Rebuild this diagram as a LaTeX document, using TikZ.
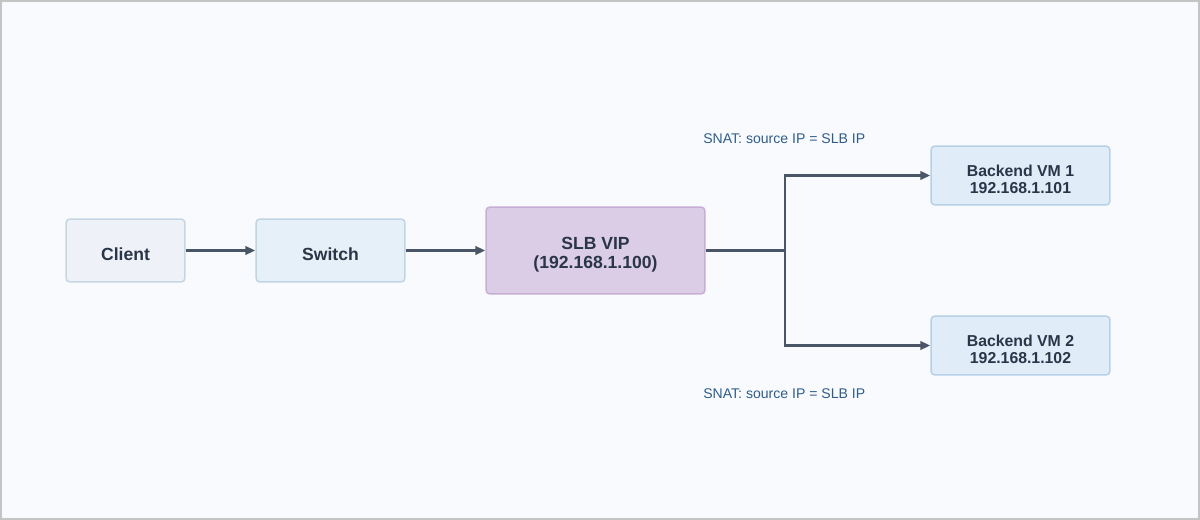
\documentclass[tikz,border=0pt]{standalone}
\usepackage{fontspec}
\setmainfont{Liberation Sans}
\usetikzlibrary{arrows.meta}
\definecolor{pagebg}{HTML}{F8FAFD}
\definecolor{frame}{HTML}{C4C4C4}
\definecolor{txt}{HTML}{2A3547}
\definecolor{wire}{HTML}{4A5568}
\definecolor{note}{HTML}{2F5D8A}
\newcommand{\dn}{\rule{0pt}{1.2em}}
\tikzstyle{box}=[rectangle,rounded corners=.08cm,draw,line width=.85pt,text=txt,font=\bfseries,align=center,inner sep=1pt]
\tikzstyle{arr}=[draw=wire,line width=1.4pt,-{Triangle[length=.2cm,width=.17cm]}]

\begin{document}
\begin{tikzpicture}[x=.02cm,y=-.02cm]
\fill[frame] (0,0) rectangle (1200,520);
\fill[pagebg] (2,2) rectangle (1198,518);
% boxes
\node[box,fill={rgb,255:red,238;green,242;blue,248},draw={rgb,255:red,198;green,214;blue,228},minimum width=2.38cm,minimum height=1.26cm,font=\bfseries\fontsize{10}{12}\selectfont] (client) at (125.5,250.5) {\dn Client};
\node[box,fill={rgb,255:red,230;green,240;blue,249},draw={rgb,255:red,192;green,212;blue,228},minimum width=2.98cm,minimum height=1.26cm,font=\bfseries\fontsize{10}{12}\selectfont] (switch) at (330.5,250.5) {\dn Switch};
\node[box,fill={rgb,255:red,220;green,205;blue,230},draw={rgb,255:red,199;green,174;blue,214},minimum width=4.38cm,minimum height=1.74cm,font=\bfseries\fontsize{10}{11}\selectfont] (slb) at (595.5,250.5) {\dn SLB VIP\\(192.168.1.100)};
\node[box,fill={rgb,255:red,224;green,237;blue,248},draw={rgb,255:red,183;green,208;blue,230},minimum width=3.58cm,minimum height=1.18cm,font=\bfseries\fontsize{9}{9.5}\selectfont] (vma) at (1020.5,175.5) {\dn Backend VM 1\\192.168.1.101};
\node[box,fill={rgb,255:red,224;green,237;blue,248},draw={rgb,255:red,183;green,208;blue,230},minimum width=3.58cm,minimum height=1.18cm,font=\bfseries\fontsize{9}{9.5}\selectfont] (vmb) at (1020.5,345.5) {\dn Backend VM 2\\192.168.1.102};
\coordinate (split) at (785,250.5);
% links
\draw[arr] (client.east) -- (switch.west);
\draw[arr] (switch.east) -- (slb.west);
\draw[draw=wire,line width=1.4pt] (slb.east) -- (split);
\draw[arr] (split) |- (vma.west);
\draw[arr] (split) |- (vmb.west);
% notes
\node[anchor=west,text=note,font=\fontsize{8}{10}\selectfont,inner sep=0pt] (snata) at (703,138.5) {SNAT: source IP = SLB IP};
\node[anchor=west,text=note,font=\fontsize{8}{10}\selectfont,inner sep=0pt] (snatb) at (703,393.5) {SNAT: source IP = SLB IP};
\end{tikzpicture}
\end{document}
